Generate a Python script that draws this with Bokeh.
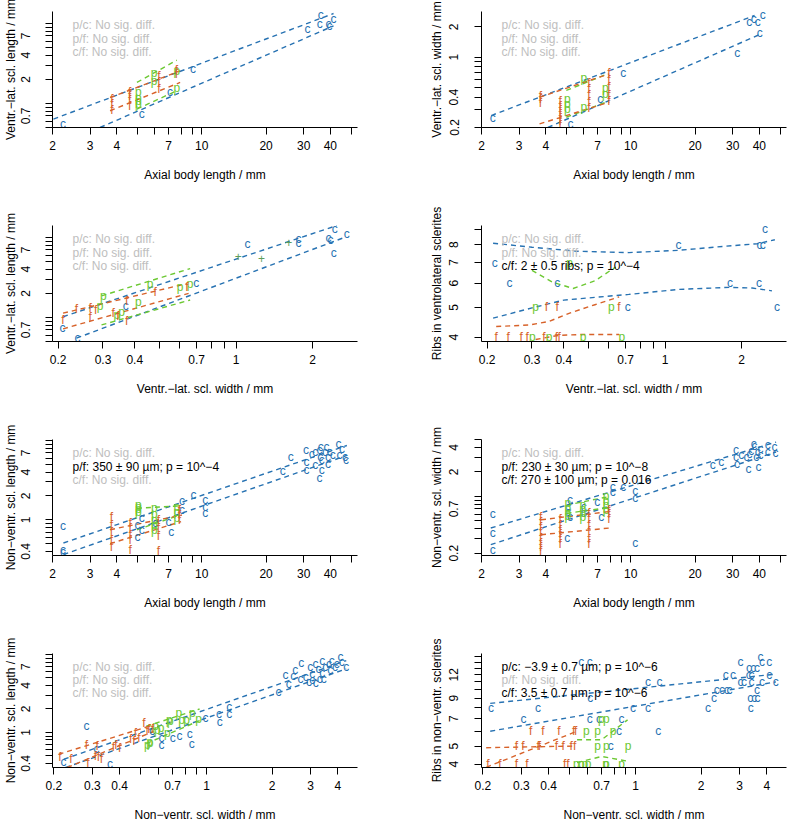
from bokeh.plotting import figure
from bokeh.models import FixedTicker, Label, ColumnDataSource, Range1d
from bokeh.layouts import row, column
from bokeh.embed import file_html
from bokeh.resources import INLINE
from bokeh.core.properties import value

BLUE = "#2772B2"
GREEN = "#6CC832"
ORANGE = "#D7622A"
PLUS = "#5E9E5A"
GREY = "#BEBEBE"
FONT = "Liberation Sans"

# ---------------- tick definitions ----------------
AXIAL_MAJ = [2, 3, 4, 7, 10, 20, 30, 40]
AXIAL_LAB = ["2", "3", "4", "7", "10", "20", "30", "40"]
AXIAL_MIN = [5, 6, 8, 9, 50]
VLW_MAJ = [0.2, 0.3, 0.4, 0.7, 1, 2]
VLW_LAB = ["0.2", "0.3", "0.4", "0.7", "1", "2"]
VLW_MIN = [0.5, 0.6, 0.8, 0.9]
NVW_MAJ = [0.2, 0.3, 0.4, 0.7, 1, 2, 3, 4]
NVW_LAB = ["0.2", "0.3", "0.4", "0.7", "1", "2", "3", "4"]
NVW_MIN = [0.5, 0.6, 0.8, 0.9]
VLL_MAJ = [0.7, 2, 4, 7]
VLL_LAB = ["0.7", "2", "4", "7"]
VLL_MIN = [0.5, 0.6, 0.8, 0.9, 1, 3, 5, 6, 8, 9, 10]
VLWY_MAJ = [0.2, 0.4, 1, 2]
VLWY_LAB = ["0.2", "0.4", "1", "2"]
VLWY_MIN = [0.3, 0.5, 0.6, 0.7, 0.8, 0.9]
RIB1_MAJ = [4, 5, 6, 7, 8]
RIB1_LAB = ["4", "5", "6", "7", "8"]
RIB1_MIN = [9]
NVL_MAJ = [0.4, 1, 2, 4, 7]
NVL_LAB = ["0.4", "1", "2", "4", "7"]
NVL_MIN = [0.5, 0.6, 0.7, 0.8, 0.9, 3, 5, 6, 8, 9, 10]
NVWY_MAJ = [0.2, 0.7, 2, 4]
NVWY_LAB = ["0.2", "0.7", "2", "4"]
NVWY_MIN = [0.3, 0.4, 0.5, 0.6, 0.8, 0.9, 1, 3, 5]
RIB2_MAJ = [4, 5, 7, 9, 12]
RIB2_LAB = ["4", "5", "7", "9", "12"]
RIB2_MIN = [6, 8, 10, 11, 13, 14, 15]

# ---------------- panel 1 ----------------
p1_c_x = [2.24, 5.24, 7.1, 9.1, 31.3, 35.7, 36.1, 39.2, 39.6, 41.4]
p1_c_y = [0.55, 0.73, 1.4, 2.7, 8.5, 9.8, 12.8, 9.8, 9.3, 11.3]
p1_p_x = [5.98, 5.98, 7.64, 7.64, 5.05, 5.05, 5.05, 5.05]
p1_p_y = [2.43, 1.92, 2.55, 1.55, 1.37, 1.18, 1.08, 0.98]
p1_f_x = [3.8, 3.8, 3.8, 4.6, 4.6, 4.6, 4.6, 6.3, 6.3, 6.3, 7.6, 7.6]
p1_f_y = [1.15, 0.98, 0.82, 1.4, 1.25, 1.1, 0.92, 2.2, 1.85, 1.5, 2.65, 2.3]
p1_c_up = ([2.02, 41.4], [0.637, 13.3])
p1_c_lo = ([3.34, 41.4], [0.50, 9.33])
p1_p_up = ([4.97, 7.64], [1.83, 3.47])
p1_p_lo = ([4.97, 7.64], [0.85, 1.44])
p1_f_up = ([3.72, 7.92], [1.18, 2.55])
p1_f_lo = ([3.72, 7.92], [0.81, 1.83])
p1_notes = ["p/c: No sig. diff.", "p/f: No sig. diff.", "c/f: No sig. diff."]
p1_sig = [False, False, False]

# ---------------- panel 2 ----------------
p2_c_x = [2.26, 5.22, 7.19, 9.21, 31.5, 35.9, 37.7, 39.3, 40.2, 41.5]
p2_c_y = [0.249, 0.217, 0.38, 0.70, 1.106, 2.23, 2.41, 2.23, 1.73, 2.66]
p2_p_x = [6.03, 5.04, 5.04, 5.04, 6.03, 7.61, 7.61]
p2_p_y = [0.624, 0.38, 0.344, 0.307, 0.318, 0.496, 0.432]
p2_f_x = [3.77, 3.77, 3.77, 4.67, 4.67, 4.67, 4.67, 4.67, 4.67, 4.67,
          6.36, 6.36, 6.36, 6.36, 6.36, 7.89, 7.89, 7.89, 7.89, 7.89]
p2_f_y = [0.41, 0.38, 0.35, 0.37, 0.33, 0.30, 0.27, 0.25, 0.23, 0.21,
          0.55, 0.48, 0.42, 0.36, 0.31, 0.70, 0.60, 0.50, 0.42, 0.37]
p2_c_up = ([2.22, 38.0], [0.263, 2.6])
p2_c_lo = ([4.09, 40.8], [0.20, 1.71])
p2_p_up = ([4.99, 7.66], [0.467, 0.673])
p2_p_lo = ([4.99, 7.66], [0.253, 0.357])
p2_f_up = ([3.74, 7.93], [0.40, 0.684])
p2_f_lo = ([3.74, 7.93], [0.217, 0.357])
p2_notes = ["p/c: No sig. diff.", "p/f: No sig. diff.", "c/f: No sig. diff."]
p2_sig = [False, False, False]

# ---------------- panel 3 ----------------
p3_c_x = [0.208, 0.238, 0.369, 0.697, 1.109, 1.76, 1.76, 2.31, 2.35, 2.44, 2.72, 2.42]
p3_c_y = [0.746, 0.561, 1.39, 2.70, 8.34, 9.6, 8.58, 9.8, 9.3, 12.8, 11.1, 6.45]
p3_p_x = [0.301, 0.292, 0.459, 0.413, 0.355, 0.34, 0.603, 0.66]
p3_p_y = [1.86, 1.40, 2.58, 1.57, 1.16, 1.07, 2.41, 2.65]
p3_f_x = [0.209, 0.236, 0.267, 0.267, 0.281, 0.329, 0.343, 0.372, 0.372, 0.481, 0.641]
p3_f_y = [0.93, 1.27, 1.32, 1.02, 1.24, 1.13, 1.04, 1.60, 0.90, 2.09, 2.41]
p3_t_x = [1.02, 1.26, 1.61]
p3_t_y = [5.85, 5.52, 8.58]
p3_c_up = ([0.209, 2.49], [1.02, 14.1])
p3_c_lo = ([0.236, 2.69], [0.55, 10.1])
p3_p_up = ([0.296, 0.66], [1.86, 4.08])
p3_p_lo = ([0.296, 0.66], [0.806, 1.65])
p3_f_up = ([0.209, 0.641], [1.13, 2.65])
p3_f_lo = ([0.209, 0.651], [0.72, 2.0])
p3_notes = ["p/c: No sig. diff.", "p/f: No sig. diff.", "c/f: No sig. diff."]
p3_sig = [False, False, False]

# ---------------- panel 4 ----------------
p4_c_x = [0.214, 0.245, 0.377, 0.714, 1.13, 1.80, 2.34, 2.35, 2.42, 2.47, 2.75]
p4_c_y = [7, 6, 6, 5, 8, 6, 6, 8, 8, 9, 5]
p4_p_x = [0.31, 0.615, 0.422, 0.301, 0.35, 0.476, 0.676]
p4_p_y = [5, 5, 7, 4, 4, 4, 4]
p4_f_x = [0.342, 0.377, 0.659, 0.217, 0.242, 0.272, 0.287, 0.334, 0.374, 0.384]
p4_f_y = [5, 5, 5, 4, 4, 4, 4, 4, 4, 4]
p4_c_up = ([0.211, 0.3, 0.45, 0.72, 1.13, 1.7, 2.3, 2.7], [8.09, 7.85, 7.62, 7.54, 7.67, 7.9, 8.06, 8.3])
p4_c_lo = ([0.211, 0.3, 0.4, 0.72, 1.13, 1.79, 2.2, 2.63], [4.61, 4.98, 5.28, 5.51, 5.72, 5.81, 5.78, 5.66])
p4_p_up = ([0.30, 0.36, 0.435, 0.53, 0.64], [6.6, 6.05, 5.76, 6.1, 6.77])
p4_f_up = ([0.217, 0.294, 0.35, 0.422, 0.53, 0.66], [4.33, 4.38, 4.5, 4.79, 5.1, 5.41])
p4_f_lo = ([0.31, 0.38, 0.47, 0.66], [3.93, 4.05, 4.08, 4.08])
p4_notes = ["p/c: No sig. diff.", "p/f: No sig. diff.", "c/f: 2 ± 0.5 ribs; p = 10^−4"]
p4_sig = [False, False, True]

# ---------------- panel 5 ----------------
p5_c_x = [2.24, 2.24, 2.24, 5.0, 5.0, 5.23, 5.23, 6.05, 6.98, 7.2, 8.07, 8.07, 9.15,
          10.37, 10.37, 10.37, 23.97, 26.1, 30.8, 30.9, 30.9, 32.7, 33.96, 34.0, 35.56,
          35.56, 35.9, 36.1, 36.5, 36.5, 37.8, 38.4, 39.0, 39.0, 39.7, 41.1, 43.7, 44.2,
          45.4, 46.9, 47.3]
p5_c_y = [0.84, 0.42, 0.39, 0.866, 0.608, 1.05, 0.75, 0.91, 0.95, 0.71, 1.74, 1.33, 2.05,
          1.78, 1.47, 1.21, 4.13, 6.18, 7.5, 5.35, 4.2, 6.82, 4.87, 7.14, 7.5,
          3.32, 6.18, 8.25, 5.62, 4.22, 7.14, 8.25, 6.18, 5.1, 7.14, 6.49, 9.1, 6.49,
          7.9, 6.18, 5.62]
p5_p_x = [5.05, 5.05, 5.05, 5.05, 5.99, 5.99, 5.99, 5.99, 5.99, 7.64, 7.64, 7.64]
p5_p_y = [1.55, 1.45, 1.35, 1.25, 1.41, 1.2, 1.0, 0.85, 0.75, 1.47, 1.25, 1.05]
p5_f_x = [3.77, 3.77, 3.77, 3.77, 3.77, 4.62, 4.62, 4.62, 4.62, 4.62,
          6.27, 6.27, 6.27, 6.27, 7.85, 7.85, 7.85]
p5_f_y = [1.1, 0.85, 0.7, 0.55, 0.46, 0.92, 0.78, 0.65, 0.55, 0.42,
          1.0, 0.8, 0.62, 0.40, 1.33, 1.15, 1.0]
p5_c_up = ([2.25, 47.8], [0.51, 8.66])
p5_c_lo = ([2.25, 47.8], [0.365, 6.49])
p5_p_up = ([4.97, 7.9], [1.40, 1.5])
p5_p_lo = ([4.97, 7.9], [0.75, 1.15])
p5_f_up = ([3.72, 8.07], [0.75, 1.15])
p5_f_lo = ([3.72, 8.0], [0.5, 0.95])
p5_notes = ["p/c: No sig. diff.", "p/f: 350 ± 90 µm; p = 10^−4", "c/f: No sig. diff."]
p5_sig = [False, True, False]

# ---------------- panel 6 ----------------
p6_c_x = [2.26, 2.26, 2.26, 5.04, 5.2, 5.1, 5.1, 5.2, 6.03, 6.03, 6.96, 7.27, 8.24, 8.24,
          9.21, 10.49, 10.49, 10.49, 24.2, 26.5, 31.1, 31.1, 31.4, 32.9, 34.8, 35.6, 36.0,
          36.7, 37.7, 38.0, 38.7, 39.3, 39.6, 40.5, 40.5, 43.8, 43.8, 47.1, 47.6]
p6_c_y = [0.61, 0.355, 0.218, 0.308, 0.89, 0.75, 0.65, 0.565, 0.75, 0.62, 0.86, 0.556, 1.31, 1.14,
          1.31, 1.16, 0.95, 0.27, 2.41, 2.65, 3.68, 3.05, 2.53, 3.2, 3.05, 2.2, 3.36,
          3.62, 4.44, 4.12, 3.05, 3.51, 2.3, 3.2, 3.86, 4.24, 3.51, 4.04, 3.41]
p6_p_x = [5.08, 5.08, 5.08, 5.08, 5.96, 5.96, 5.96, 5.96, 7.66, 7.66, 7.66, 7.66]
p6_p_y = [0.83, 0.72, 0.63, 0.57, 0.79, 0.70, 0.62, 0.55, 1.0, 0.88, 0.78, 0.68]
p6_f_x = [3.78, 3.78, 3.78, 3.78, 3.78, 3.78, 3.78, 3.78, 4.67, 4.67, 4.67, 4.67, 4.67, 4.67,
          6.36, 6.36, 6.36, 6.36, 6.36, 6.36, 7.89, 7.89, 7.89]
p6_f_y = [0.56, 0.48, 0.42, 0.36, 0.31, 0.27, 0.24, 0.21, 0.52, 0.45, 0.39, 0.34, 0.30, 0.26,
          0.62, 0.53, 0.45, 0.38, 0.30, 0.26, 0.68, 0.60, 0.53]
p6_c_up = ([2.21, 47.9], [0.408, 4.65])
p6_c_lo = ([2.21, 47.9], [0.255, 3.51])
p6_p_up = ([5.0, 7.7], [0.78, 0.98])
p6_p_lo = ([5.0, 7.7], [0.62, 0.72])
p6_f_up = ([3.8, 7.93], [0.515, 0.65])
p6_f_lo = ([3.8, 7.93], [0.338, 0.408])
p6_notes = ["p/c: No sig. diff.", "p/f: 230 ± 30 µm; p = 10^−8", "c/f: 270 ± 100 µm; p = 0.016"]
p6_sig = [False, True, True]

# ---------------- panel 7 ----------------
p7_c_x = [0.221, 0.282, 0.313, 0.361, 0.564, 0.622, 0.622, 0.7, 0.753, 0.839, 0.857, 0.99,
          1.14, 1.15, 1.27, 1.27, 2.14, 2.30, 2.38, 2.50, 2.55, 2.72, 2.70, 2.85, 2.95,
          3.05, 3.17, 2.99, 3.05, 3.16, 3.26, 3.39, 3.39, 3.45, 3.5, 3.64, 3.69, 3.75,
          3.88, 3.95, 4.11, 4.17, 4.37, 3.3]
p7_c_y = [0.42, 1.22, 0.606, 0.391, 1.04, 0.85, 0.70, 0.85, 0.91, 0.965, 0.715, 1.53,
          1.73, 1.35, 1.73, 2.10, 3.32, 5.39, 4.23, 5.24, 6.37, 7.74, 4.9, 5.15, 4.44,
          4.66, 4.3, 6.88, 5.67, 7.59, 6.55, 8.35, 5.78, 4.9, 6.88, 7.59, 6.37, 8.2,
          6.88, 7.59, 9.38, 7.94, 6.88, 4.9]
p7_p_x = [0.536, 0.551, 0.585, 0.595, 0.62, 0.661, 0.683, 0.747, 0.77, 0.81, 0.862, 0.92, 0.675, 0.55]
p7_p_y = [0.70, 0.736, 1.22, 1.085, 1.14, 0.985, 1.39, 1.76, 1.43, 1.45, 1.80, 1.48, 1.43, 0.75]
p7_f_x = [0.213, 0.239, 0.282, 0.286, 0.316, 0.31, 0.32, 0.33, 0.375, 0.385, 0.4, 0.449,
          0.465, 0.472, 0.49, 0.517, 0.535, 0.545, 0.565]
p7_f_y = [0.49, 0.453, 0.68, 0.403, 0.668, 0.5, 0.48, 0.453, 0.655, 0.70, 0.64, 0.827,
          0.77, 0.985, 0.85, 1.32, 1.05, 1.12, 1.1]
p7_c_up = ([0.222, 4.37], [0.453, 8.35])
p7_c_lo = ([0.226, 4.37], [0.355, 6.55])
p7_p_up = ([0.53, 0.93], [1.2, 2.0])
p7_p_lo = ([0.53, 0.93], [0.72, 1.42])
p7_f_up = ([0.21, 0.574], [0.524, 1.255])
p7_f_lo = ([0.23, 0.574], [0.355, 1.035])
p7_notes = ["p/c: No sig. diff.", "p/f: No sig. diff.", "c/f: No sig. diff."]
p7_sig = [False, False, False]

# ---------------- panel 8 ----------------
p8_c_x = [0.218, 0.307, 0.358, 0.565, 0.617, 0.62, 0.617, 0.681, 0.863, 0.84, 0.77, 0.975,
          1.14, 1.14, 1.29, 1.27, 2.15, 2.29, 2.36, 2.49, 2.62, 2.70, 2.59, 2.8, 3.03,
          3.31, 3.46, 3.6, 3.74, 3.8, 4.1, 3.03, 3.14, 3.4, 3.3, 3.4, 3.6, 3.36, 3.5,
          3.62, 3.37, 3.8, 4.1, 4.39]
p8_c_y = [8, 7, 8, 14, 14, 9, 7, 7, 7, 6, 5, 8,
          8, 11, 11, 6, 8, 9, 10, 10, 10, 10, 12, 12, 14,
          13, 13, 13, 15, 14, 14, 11, 11, 11, 12, 12, 10, 9, 9,
          9, 8, 11, 12, 11]
p8_p_x = [0.698, 0.736, 0.596, 0.67, 0.79, 0.67, 0.736, 0.925, 0.536, 0.565, 0.586, 0.606, 0.73, 0.736, 0.863]
p8_p_y = [7, 7, 6, 6, 6, 5, 5, 5, 4, 4, 4, 4, 4, 4, 4]
p8_f_x = [0.331, 0.377, 0.446, 0.521, 0.532, 0.285, 0.305, 0.358, 0.363, 0.434, 0.466, 0.508,
          0.526, 0.211, 0.239, 0.285, 0.318, 0.474, 0.49]
p8_f_y = [6, 6, 6, 6, 6, 5, 5, 5, 5, 5, 5, 5, 5, 4, 4, 4, 4, 4, 4]
p8_c_up = ([0.216, 4.4], [8.45, 12.1])
p8_c_lo = ([0.216, 4.4], [6.0, 11.0])
p8_p_up = ([0.54, 0.7, 0.92], [5.4, 5.4, 6.9])
p8_p_lo = ([0.54, 0.7, 0.92], [4.08, 4.4, 4.15])
p8_f_up = ([0.207, 0.53], [4.9, 5.0])
p8_f_lo = ([0.207, 0.53], [3.85, 5.95])
p8_notes = ["p/c: −3.9 ± 0.7 µm; p = 10^−6", "p/f: No sig. diff.", "c/f: 3.5 ± 0.7 µm; p = 10^−6"]
p8_sig = [True, False, True]

# ---------------- layout geometry ----------------
FRAME_W = 305
FRAME_H = 116
ROW_BORDERS = [(11, 78), (20, 78), (20, 79), (19, 55)]   # (top, bottom) per row
COL_BORDERS = [(52, 36), (88, 1)]                          # (left, right) per column


def style_axis(ax, ticks, labels, minor, title, lab_standoff, title_standoff):
    ax.ticker = FixedTicker(ticks=ticks, minor_ticks=minor)
    ax.major_label_overrides = {t: l for t, l in zip(ticks, labels)}
    ax.axis_label = title
    ax.axis_line_color = "black"
    ax.axis_line_width = 1
    ax.major_tick_out = 7
    ax.major_tick_in = 0
    ax.minor_tick_out = 7
    ax.minor_tick_in = 0
    ax.major_tick_line_color = "black"
    ax.minor_tick_line_color = "black"
    ax.major_label_text_font = FONT
    ax.major_label_text_font_size = "12px"
    ax.major_label_text_color = "black"
    ax.major_label_standoff = lab_standoff
    ax.axis_label_text_font = FONT
    ax.axis_label_text_font_size = "12px"
    ax.axis_label_text_font_style = "normal"
    ax.axis_label_text_color = "black"
    ax.axis_label_standoff = title_standoff


def panel(col, rowi, xr, yr, xt, yt, xtitle, ytitle, groups, lines, notes, sig):
    left, right = COL_BORDERS[col]
    top, bottom = ROW_BORDERS[rowi]
    p = figure(width=left + FRAME_W + right, height=top + FRAME_H + bottom,
               x_axis_type="log", y_axis_type="log",
               x_range=Range1d(*xr), y_range=Range1d(*yr),
               output_backend="svg", toolbar_location=None,
               min_border_left=left, min_border_right=right,
               min_border_top=top, min_border_bottom=bottom)
    p.outline_line_color = None
    p.grid.visible = False
    p.background_fill_color = "white"
    p.border_fill_color = "white"
    style_axis(p.xaxis[0], xt[0], xt[1], xt[2], xtitle, 6, 15)
    if col == 0:
        style_axis(p.yaxis[0], yt[0], yt[1], yt[2], ytitle, 15, 1)
    else:
        style_axis(p.yaxis[0], yt[0], yt[1], yt[2], ytitle, 16, 3)
    p.yaxis[0].major_label_orientation = "vertical"

    for (xs, ys), color in lines:
        p.line(xs, ys, line_color=color, line_width=1.4, line_dash="5 4")
    for xs, ys, letter, color in groups:
        src = ColumnDataSource(dict(x=xs, y=ys, t=[letter] * len(xs)))
        p.text(x="x", y="y", text="t", source=src, text_color=color,
               text_font=value(FONT), text_font_size="12px",
               text_align="center", text_baseline="middle")

    x0, x1 = xr
    y0, y1 = yr
    tx = x0 * (x1 / x0) ** (20.0 / FRAME_W)
    for i, (note, s) in enumerate(zip(notes, sig)):
        off = 13.5 + 13.5 * i
        ty = y0 * (y1 / y0) ** ((FRAME_H - off) / FRAME_H)
        p.add_layout(Label(x=tx, y=ty, text=note, text_font=FONT,
                           text_font_size="12px", text_baseline="middle",
                           text_align="left",
                           text_color="black" if s else GREY))
    return p


AXIAL = (AXIAL_MAJ, AXIAL_LAB, AXIAL_MIN)
VLW = (VLW_MAJ, VLW_LAB, VLW_MIN)
NVW = (NVW_MAJ, NVW_LAB, NVW_MIN)

f1 = panel(0, 0, (2.0, 53.6), (0.5, 14.1), AXIAL, (VLL_MAJ, VLL_LAB, VLL_MIN),
           "Axial body length / mm", "Ventr.−lat. scl. length / mm",
           [(p1_c_x, p1_c_y, "c", BLUE), (p1_p_x, p1_p_y, "p", GREEN), (p1_f_x, p1_f_y, "f", ORANGE)],
           [(p1_c_up, BLUE), (p1_c_lo, BLUE), (p1_p_up, GREEN), (p1_p_lo, GREEN),
            (p1_f_up, ORANGE), (p1_f_lo, ORANGE)], p1_notes, p1_sig)
f2 = panel(1, 0, (2.0, 53.6), (0.2, 2.85), AXIAL, (VLWY_MAJ, VLWY_LAB, VLWY_MIN),
           "Axial body length / mm", "Ventr.−lat. scl. width / mm",
           [(p2_c_x, p2_c_y, "c", BLUE), (p2_p_x, p2_p_y, "p", GREEN), (p2_f_x, p2_f_y, "f", ORANGE)],
           [(p2_c_up, BLUE), (p2_c_lo, BLUE), (p2_p_up, GREEN), (p2_p_lo, GREEN),
            (p2_f_up, ORANGE), (p2_f_lo, ORANGE)], p2_notes, p2_sig)
f3 = panel(0, 1, (0.19, 3.0), (0.5, 14.1), VLW, (VLL_MAJ, VLL_LAB, VLL_MIN),
           "Ventr.−lat. scl. width / mm", "Ventr.−lat. scl. length / mm",
           [(p3_c_x, p3_c_y, "c", BLUE), (p3_p_x, p3_p_y, "p", GREEN), (p3_f_x, p3_f_y, "f", ORANGE),
            (p3_t_x, p3_t_y, "+", PLUS)],
           [(p3_c_up, BLUE), (p3_c_lo, BLUE), (p3_p_up, GREEN), (p3_p_lo, GREEN),
            (p3_f_up, ORANGE), (p3_f_lo, ORANGE)], p3_notes, p3_sig)
f4 = panel(1, 1, (0.19, 3.0), (3.87, 9.24), VLW, (RIB1_MAJ, RIB1_LAB, RIB1_MIN),
           "Ventr.−lat. scl. width / mm", "Ribs in ventrolateral sclerites",
           [(p4_c_x, p4_c_y, "c", BLUE), (p4_p_x, p4_p_y, "p", GREEN), (p4_f_x, p4_f_y, "f", ORANGE)],
           [(p4_c_up, BLUE), (p4_c_lo, BLUE), (p4_p_up, GREEN),
            (p4_f_up, ORANGE), (p4_f_lo, ORANGE)], p4_notes, p4_sig)
f5 = panel(0, 2, (2.0, 53.6), (0.355, 10.3), AXIAL, (NVL_MAJ, NVL_LAB, NVL_MIN),
           "Axial body length / mm", "Non−ventr. scl. length / mm",
           [(p5_c_x, p5_c_y, "c", BLUE), (p5_p_x, p5_p_y, "p", GREEN), (p5_f_x, p5_f_y, "f", ORANGE)],
           [(p5_c_up, BLUE), (p5_c_lo, BLUE), (p5_p_up, GREEN), (p5_p_lo, GREEN),
            (p5_f_up, ORANGE), (p5_f_lo, ORANGE)], p5_notes, p5_sig)
f6 = panel(1, 2, (2.0, 53.6), (0.1875, 5.0), AXIAL, (NVWY_MAJ, NVWY_LAB, NVWY_MIN),
           "Axial body length / mm", "Non−ventr. scl. width / mm",
           [(p6_c_x, p6_c_y, "c", BLUE), (p6_p_x, p6_p_y, "p", GREEN), (p6_f_x, p6_f_y, "f", ORANGE)],
           [(p6_c_up, BLUE), (p6_c_lo, BLUE), (p6_p_up, GREEN), (p6_p_lo, GREEN),
            (p6_f_up, ORANGE), (p6_f_lo, ORANGE)], p6_notes, p6_sig)
f7 = panel(0, 3, (0.197, 4.92), (0.355, 10.3), NVW, (NVL_MAJ, NVL_LAB, NVL_MIN),
           "Non−ventr. scl. width / mm", "Non−ventr. scl. length / mm",
           [(p7_c_x, p7_c_y, "c", BLUE), (p7_p_x, p7_p_y, "p", GREEN), (p7_f_x, p7_f_y, "f", ORANGE)],
           [(p7_c_up, BLUE), (p7_c_lo, BLUE), (p7_p_up, GREEN), (p7_p_lo, GREEN),
            (p7_f_up, ORANGE), (p7_f_lo, ORANGE)], p7_notes, p7_sig)
f8 = panel(1, 3, (0.197, 4.92), (3.84, 15.6), NVW, (RIB2_MAJ, RIB2_LAB, RIB2_MIN),
           "Non−ventr. scl. width / mm", "Ribs in non−ventr. sclerites",
           [(p8_c_x, p8_c_y, "c", BLUE), (p8_p_x, p8_p_y, "p", GREEN), (p8_f_x, p8_f_y, "f", ORANGE)],
           [(p8_c_up, BLUE), (p8_c_lo, BLUE), (p8_p_up, GREEN), (p8_p_lo, GREEN),
            (p8_f_up, ORANGE), (p8_f_lo, ORANGE)], p8_notes, p8_sig)

layout = column(row(f1, f2), row(f3, f4), row(f5, f6), row(f7, f8))

open("out.html", "w").write(file_html(layout, INLINE))
